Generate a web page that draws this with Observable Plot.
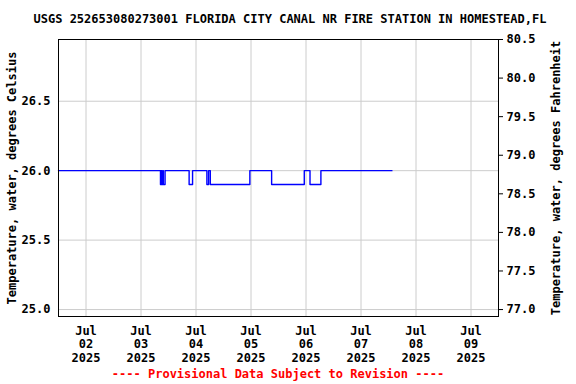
<!DOCTYPE html>
<html>
<head>
<meta charset="utf-8">
<script src="https://cdn.jsdelivr.net/npm/d3@7"></script>
<script src="https://cdn.jsdelivr.net/npm/@observablehq/plot@0.6"></script>
<style>
  body { margin: 0; background: #fff; }
  #wrap { position: relative; width: 576px; height: 384px; font-family: "DejaVu Sans Mono", monospace; font-weight: bold; }
  #title { position: absolute; top: 12px; left: 0; width: 580px; text-align: center; font-size: 12px; color: #000; white-space: nowrap; }
  #foot { position: absolute; top: 367px; left: 0; width: 556px; text-align: center; font-size: 12px; color: #ff0000; white-space: nowrap; }
  svg { position: absolute; top: 0; left: 0; }
</style>
</head>
<body>
<div id="wrap">
  <div id="chart"></div>
  <div id="title">USGS 252653080273001 FLORIDA CITY CANAL NR FIRE STATION IN HOMESTEAD,FL</div>
  <div id="foot">---- Provisional Data Subject to Revision ----</div>
</div>
<script>
// Change points of the stepwise water-temperature record (degrees Celsius)
const times = [
  "2025-07-01T12:00", "2025-07-03T08:30", "2025-07-03T08:45", "2025-07-03T09:00",
  "2025-07-03T09:30", "2025-07-03T09:45", "2025-07-03T10:30", "2025-07-03T21:00",
  "2025-07-03T22:30", "2025-07-04T04:45", "2025-07-04T05:30", "2025-07-04T06:15",
  "2025-07-04T23:30", "2025-07-05T09:00", "2025-07-05T23:15", "2025-07-06T01:45",
  "2025-07-06T06:30", "2025-07-07T13:30"
];
const tempC = [
  26.0, 25.9, 26.0, 25.9,
  26.0, 25.9, 26.0, 25.9,
  26.0, 25.9, 26.0, 25.9,
  26.0, 25.9, 26.0, 25.9,
  26.0, 26.0
];
const dayTicks = ["2025-07-02","2025-07-03","2025-07-04","2025-07-05","2025-07-06","2025-07-07","2025-07-08","2025-07-09"];
const celsiusTicks = [25.0, 25.5, 26.0, 26.5];
const fahrenheitTicks = [77.0, 77.5, 78.0, 78.5, 79.0, 79.5, 80.0, 80.5];

const parse = d3.utcParse("%Y-%m-%dT%H:%M");
const parseDay = d3.utcParse("%Y-%m-%d");
const data = times.map((t, i) => ({t: parse(t), v: tempC[i]}));
const days = dayTicks.map(parseDay);
const f2c = f => (f - 32) * 5 / 9;
const fmtDay = d3.utcFormat("%b\n%d\n%Y");

const chart = Plot.plot({
  width: 576,
  height: 384,
  marginLeft: 58,
  marginRight: 78,
  marginTop: 39,
  marginBottom: 68,
  style: {fontFamily: "DejaVu Sans Mono", fontSize: "12px", fontWeight: "bold", background: "#fff", overflow: "visible"},
  x: {type: "utc", domain: [parse("2025-07-01T12:00"), parse("2025-07-09T12:00")]},
  y: {domain: [24.95, f2c(80.5)]},
  marks: [
    Plot.gridX(days, {stroke: "#cccccc", strokeOpacity: 1}),
    Plot.gridY(celsiusTicks, {stroke: "#cccccc", strokeOpacity: 1}),
    Plot.axisX(days, {tickSize: 0, tickPadding: 9, tickFormat: fmtDay, lineHeight: 1.12, fill: "#000", label: null}),
    Plot.axisY(celsiusTicks, {anchor: "left", tickSize: 0, tickPadding: 8, tickFormat: d => d.toFixed(1), label: null, fill: "#000"}),
    Plot.axisY(fahrenheitTicks.map(f2c), {anchor: "right", tickSize: 4, tickPadding: 4, tickFormat: c => (c * 9 / 5 + 32).toFixed(1), label: null, fill: "#000", stroke: "#000"}),
    Plot.text(["Temperature, water, degrees Celsius"], {frameAnchor: "left", textAnchor: "middle", rotate: -90, dx: -46, fill: "#000"}),
    Plot.text(["Temperature, water, degrees Fahrenheit"], {frameAnchor: "right", textAnchor: "middle", rotate: -90, dx: 58, fill: "#000"}),
    Plot.line(data, {x: "t", y: "v", curve: "step-after", stroke: "#0000ff", strokeWidth: 1.4}),
    Plot.frame({stroke: "#000", strokeWidth: 1})
  ]
});
document.getElementById("chart").appendChild(chart);
</script>
</body>
</html>
